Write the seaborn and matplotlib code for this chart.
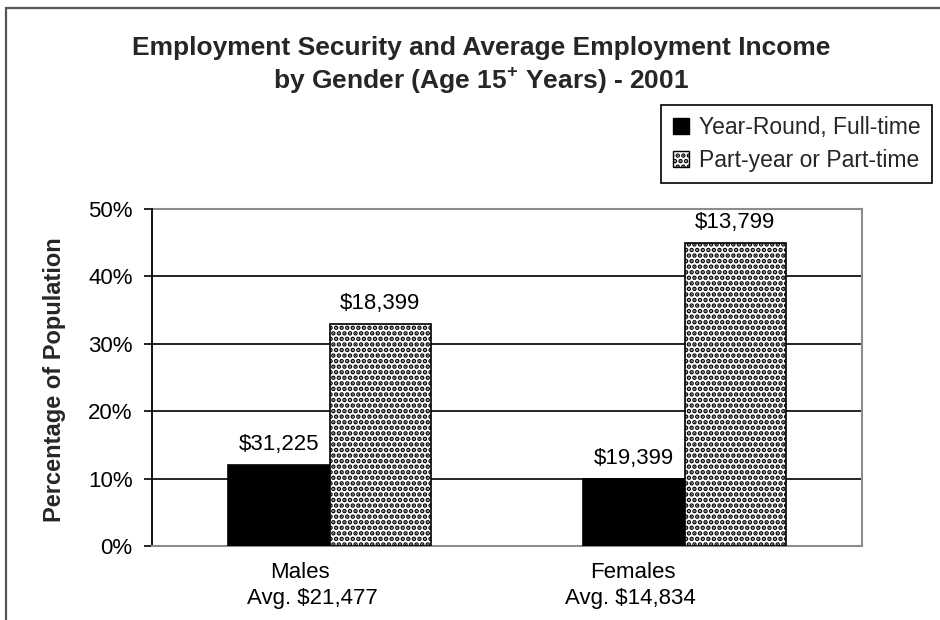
import matplotlib
matplotlib.use("Agg")
import matplotlib.pyplot as plt
import seaborn as sns
import pandas as pd
from matplotlib.patches import Patch, Rectangle
from matplotlib.transforms import ScaledTranslation, blended_transform_factory

# ---- data ----
categories = ["Males", "Females"]
avg_income = ["Avg. $21,477", "Avg. $14,834"]
series = ["Year-Round, Full-time", "Part-year or Part-time"]
full_time_pct = [12, 10]
part_time_pct = [33, 45]
full_time_income = ["$31,225", "$19,399"]
part_time_income = ["$18,399", "$13,799"]
y_ticks = [0, 10, 20, 30, 40, 50]
y_tick_labels = ["0%", "10%", "20%", "30%", "40%", "50%"]

df = pd.DataFrame({
    "Gender": categories * 2,
    "Type": [series[0]] * 2 + [series[1]] * 2,
    "Pct": full_time_pct + part_time_pct,
})

sns.set_theme(style="white")
plt.rcParams["font.family"] = ["Liberation Sans", "DejaVu Sans"]
plt.rcParams["mathtext.fontset"] = "custom"
plt.rcParams["mathtext.rm"] = "Liberation Sans:bold"
plt.rcParams["mathtext.bf"] = "Liberation Sans:bold"
plt.rcParams["hatch.linewidth"] = 2.3

W, H = 940, 620
fig = plt.figure(figsize=(W / 100, H / 100), dpi=100)
fig.patch.set_facecolor("white")
ax = fig.add_axes([152 / W, 1 - 546 / H, (862 - 152) / W, (546 - 209) / H])

palette = {series[0]: "black", series[1]: "white"}
sns.barplot(data=df, x="Gender", y="Pct", hue="Type", order=categories,
            hue_order=series, palette=palette, saturation=1, width=0.572,
            edgecolor="black", linewidth=1.2, ax=ax, zorder=3)

for bar in ax.containers[1]:
    bar.set_hatch("...")
    bar.set_edgecolor("black")

if ax.get_legend() is not None:
    ax.get_legend().remove()

ax.set_xlim(-0.5, 1.5)
ax.set_ylim(0, 50)
ax.set_yticks(y_ticks)
ax.set_yticklabels(y_tick_labels)
for v in y_ticks[1:-1]:
    ax.axhline(v, color="black", lw=1.2, zorder=1)

ax.set_xlabel("")
ax.set_ylabel("")
ax.set_xticks(range(len(categories)))
ax.set_xticklabels([""] * len(categories))

# category labels (two lines, shifted left as in the original)
trans_x = blended_transform_factory(ax.transData, ax.transAxes)
line1_dx = [-30, -52]
line2_dx = [-17, -54]
for i, (c, a) in enumerate(zip(categories, avg_income)):
    ax.text(i, 0, c, fontsize=16, color="black", ha="center", va="center",
            transform=trans_x + ScaledTranslation(line1_dx[i] / 100, -0.26,
                                                  fig.dpi_scale_trans))
    ax.text(i, 0, a, fontsize=16, color="black", ha="center", va="center",
            transform=trans_x + ScaledTranslation(line2_dx[i] / 100, -0.525,
                                                  fig.dpi_scale_trans))

ax.tick_params(axis="y", direction="out", length=6, width=1.2, color="black",
               pad=8, labelsize=16, labelcolor="black", left=True)
ax.tick_params(axis="x", length=0, pad=9, labelsize=16)

for s in ["top", "right", "bottom"]:
    ax.spines[s].set_color("#8c8c8c")
    ax.spines[s].set_linewidth(1.5)
ax.spines["left"].set_color("black")
ax.spines["left"].set_linewidth(1.3)
ax.spines["top"].set_zorder(0.6)

for cont, labs in zip(ax.containers, [full_time_income, part_time_income]):
    texts = ax.bar_label(cont, labels=labs, padding=7, fontsize=16,
                         color="black")
    for t in texts:
        t.set_bbox(dict(facecolor="white", edgecolor="none", pad=1))
        t.set_clip_on(False)
        t.set_zorder(5)

# title
fig.text(481 / W, 1 - 48 / H,
         "Employment Security and Average Employment Income",
         ha="center", va="center", fontsize=19, fontweight="bold")
fig.text(481 / W, 1 - 80 / H,
         r"by Gender (Age 15$^{\mathbf{+}}$ Years) - 2001",
         ha="center", va="center", fontsize=19, fontweight="bold")

# y label
fig.text(55 / W, 1 - 380 / H, "Percentage of Population", rotation=90,
         ha="center", va="center", fontsize=17, fontweight="bold")

# legend
handles = [Patch(facecolor="black", edgecolor="black", linewidth=1),
           Patch(facecolor="white", edgecolor="black", hatch="...", linewidth=1)]
leg = fig.legend(handles, series, loc="upper right",
                 bbox_to_anchor=(932 / W, 1 - 105 / H), fontsize=16.5,
                 frameon=True, fancybox=False, shadow=False,
                 handlelength=0.7, handleheight=0.7, handletextpad=0.45,
                 borderpad=0.5, labelspacing=0.4, borderaxespad=0)
leg.get_frame().set_edgecolor("black")
leg.get_frame().set_linewidth(1.2)
leg.get_frame().set_facecolor("white")
leg.get_frame().set_alpha(1)

# outer chart border (top and left visible)
fig.add_artist(Rectangle((6 / W, -0.1), 1.2, 1 - 8 / H + 0.1,
                         transform=fig.transFigure, fill=False,
                         edgecolor="#555555", linewidth=1.6, clip_on=False))

fig.savefig("out.png", dpi=100)
